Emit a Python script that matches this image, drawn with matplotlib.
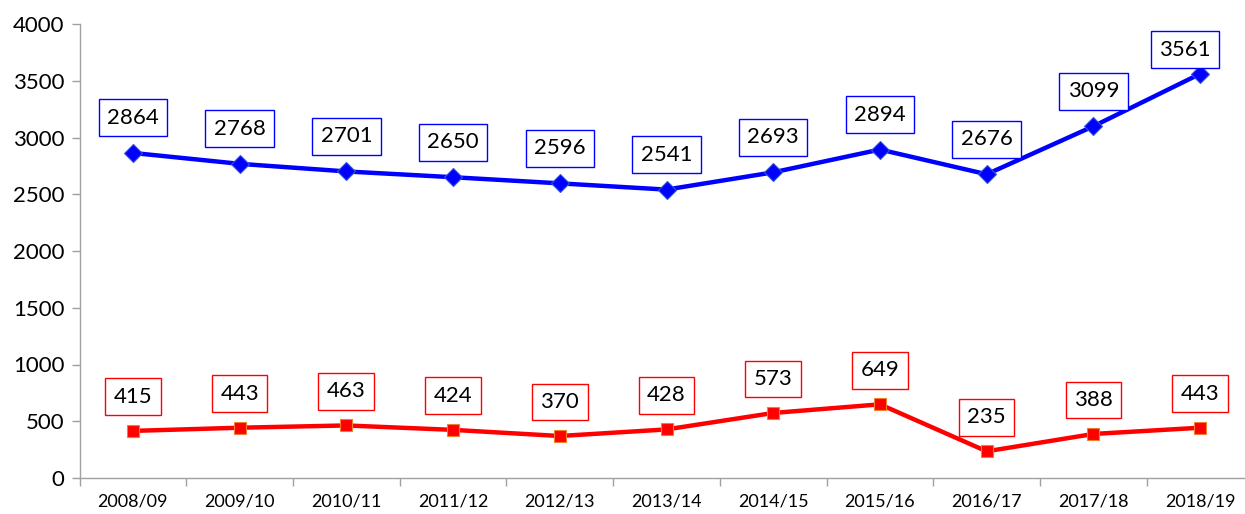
import matplotlib
matplotlib.use("Agg")
import matplotlib.pyplot as plt
import numpy as np

categories = ["2008/09", "2009/10", "2010/11", "2011/12", "2012/13", "2013/14",
              "2014/15", "2015/16", "2016/17", "2017/18", "2018/19"]
blue_values = [2864, 2768, 2701, 2650, 2596, 2541, 2693, 2894, 2676, 3099, 3561]
red_values = [415, 443, 463, 424, 370, 428, 573, 649, 235, 388, 443]
y_ticks = [0, 500, 1000, 1500, 2000, 2500, 3000, 3500, 4000]

plt.rcParams['font.family'] = ['Lato', 'DejaVu Sans']

fig = plt.figure(figsize=(12.45, 5.14), dpi=100)
ax = fig.add_axes([79.5 / 1245, 36 / 514, 1174 / 1245, 454 / 514])

x = np.arange(len(categories))
ax.plot(x, blue_values, color="#0000FF", lw=3.2, marker="D", markersize=9,
        markerfacecolor="#0000FF", markeredgecolor="#3355DD", markeredgewidth=0.8,
        solid_joinstyle="round", zorder=3)
ax.plot(x, red_values, color="#FF0000", lw=3.2, marker="s", markersize=8,
        markerfacecolor="#FF0000", markeredgecolor="#F08030", markeredgewidth=0.8,
        solid_joinstyle="round", zorder=3)

n = len(categories)
for i, (xi, v) in enumerate(zip(x, blue_values)):
    # last label is pushed inside the plot area (as the spreadsheet does)
    off = (-15, 24) if i == n - 1 else (0, 35)
    ax.annotate(str(v), (xi, v), xytext=off, textcoords="offset pixels",
                ha="center", va="center", fontsize=16, color="black",
                bbox=dict(boxstyle="square,pad=0.38", fc="white", ec="#0000FF", lw=1.0),
                zorder=4)
for xi, v in zip(x, red_values):
    ax.annotate(str(v), (xi, v), xytext=(0, 34), textcoords="offset pixels",
                ha="center", va="center", fontsize=16, color="black",
                bbox=dict(boxstyle="square,pad=0.38", fc="white", ec="#FF0000", lw=1.0),
                zorder=4)

ax.set_xlim(-0.5, n - 0.5)
ax.set_ylim(0, 4000)
ax.set_yticks(y_ticks)
ax.set_yticklabels([str(t) for t in y_ticks], fontsize=16)
ax.set_xticks(x)
ax.set_xticklabels(categories, fontsize=13)
ax.set_xticks(np.arange(-0.5, n, 1.0), minor=True)
ax.tick_params(axis="x", which="major", length=0, pad=11)
ax.tick_params(axis="x", which="minor", length=6, color="#A0A0A0", width=1)
ax.tick_params(axis="y", length=6, color="#A0A0A0", width=1, pad=5)

for s in ["top", "right"]:
    ax.spines[s].set_visible(False)
for s in ["left", "bottom"]:
    ax.spines[s].set_color("#A0A0A0")
    ax.spines[s].set_linewidth(1)

fig.savefig("out.png", dpi=100)
